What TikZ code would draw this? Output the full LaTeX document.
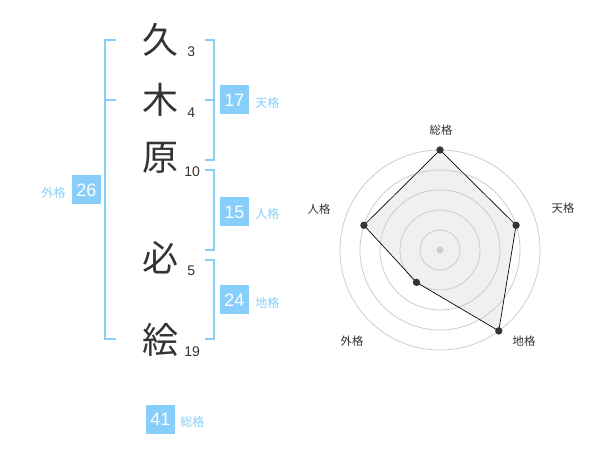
\documentclass[tikz,border=0pt]{standalone}
\usepackage{fontspec}
\setmainfont{Liberation Sans}
\newfontfamily\jp{Noto Sans CJK JP}
\usepackage{tikz}
\definecolor{skyb}{HTML}{87CEFA}
\definecolor{ink}{HTML}{333333}
\definecolor{ring}{HTML}{CCCCCC}
\definecolor{area}{HTML}{F0F0F0}
\tikzstyle{kanji}=[inner sep=0pt, text=ink, font=\jp\fontsize{27}{27}\selectfont]
\tikzstyle{strokes}=[inner sep=0pt, anchor=west, text=ink, font=\fontsize{10.5}{10.5}\selectfont]
\tikzstyle{score}=[fill=skyb, text=white, minimum size=21.75pt, inner sep=0pt, font=\fontsize{13.5}{13.5}\selectfont]
\tikzstyle{kaku}=[inner sep=0pt, text=skyb, font=\jp\fontsize{9}{9}\selectfont]
\tikzstyle{axis}=[inner sep=0pt, text=ink, font=\jp\fontsize{8.5}{8.5}\selectfont]
\tikzstyle{bracket}=[draw=skyb, line width=1.5pt]
\tikzstyle{dot}=[circle, fill=ink, inner sep=0pt, minimum size=5.5pt]

\begin{document}
\begin{tikzpicture}[x=0.75pt, y=-0.75pt]
    \useasboundingbox (0,0) rectangle (600,470);
    % name characters
    \node[kanji] (c1) at (160, 40) {久};
    \node[kanji] (c2) at (160,100) {木};
    \node[kanji] (c3) at (160,158) {原};
    \node[kanji] (c4) at (160,258) {必};
    \node[kanji] (c5) at (160,340) {絵};
    \node[strokes] (n1) at (187, 52) {3};
    \node[strokes] (n2) at (187,113) {4};
    \node[strokes] (n3) at (184,172) {10};
    \node[strokes] (n4) at (187,271) {5};
    \node[strokes] (n5) at (184,352) {19};
    % brackets
    \draw[bracket] (116,40) -- (105,40) -- (105,339) -- (116,339);
    \draw[bracket] (105,100) -- (116,100);
    \draw[bracket] (205,40) -- (214,40) -- (214,160) -- (205,160);
    \draw[bracket] (205,100) -- (214,100);
    \draw[bracket] (205,170) -- (214,170) -- (214,250) -- (205,250);
    \draw[bracket] (205,260) -- (214,260) -- (214,339) -- (205,339);
    % scores
    \node[score] (ten) at (234.5,100) {17};
    \node[kaku, anchor=west] at (255,103) {天格};
    \node[score] (jin) at (234.5,212) {15};
    \node[kaku, anchor=west] at (255,214) {人格};
    \node[score] (chi) at (234.5,300) {24};
    \node[kaku, anchor=west] at (255,303) {地格};
    \node[score] (gai) at (86.5,190) {26};
    \node[kaku, anchor=east] at (66,193) {外格};
    \node[score] (sou) at (160.5,419) {41};
    \node[kaku, anchor=west] at (180,422) {総格};
    % radar
    \begin{scope}[shift={(440,250)}, x=0.75pt, y=0.75pt]
        \coordinate (p1) at (90:100);
        \coordinate (p2) at (18:80);
        \coordinate (p3) at (-54:100);
        \coordinate (p4) at (-126:40);
        \coordinate (p5) at (162:80);
        \fill[area] (p1) -- (p2) -- (p3) -- (p4) -- (p5) -- cycle;
        \foreach \r in {20,40,60,80,100}
            \draw[ring, line width=0.6pt] (0,0) circle (\r);
        \fill[ring] (0,0) circle (3.5);
        \draw[black, line width=0.5pt] (p1) -- (p2) -- (p3) -- (p4) -- (p5) -- cycle;
        \foreach \p in {p1,p2,p3,p4,p5}
            \node[dot] at (\p) {};
        \node[axis] (a1) at (1,120) {総格};
        \node[axis] (a2) at (123,42) {天格};
        \node[axis] (a3) at (84,-91) {地格};
        \node[axis] (a4) at (-88,-91) {外格};
        \node[axis] (a5) at (-121,41) {人格};
    \end{scope}
\end{tikzpicture}
\end{document}
